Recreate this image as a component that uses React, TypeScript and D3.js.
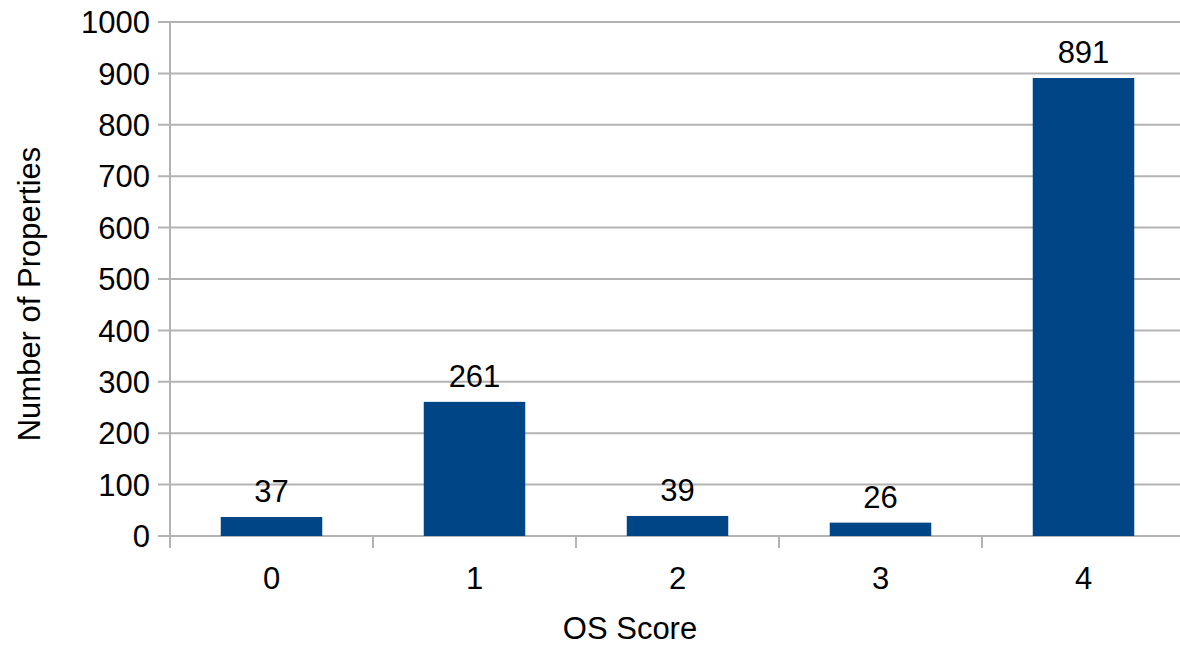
import React from "react";
import * as d3 from "d3";

const categories = ["0", "1", "2", "3", "4"];
const values = [37, 261, 39, 26, 891];
const yTicks = [0, 100, 200, 300, 400, 500, 600, 700, 800, 900, 1000];
const xTitle = "OS Score";
const yTitle = "Number of Properties";

const W = 1180;
const H = 647;
const left = 170;
const right = 1185;
const top = 22;
const bottom = 536;
const FONT = "'Liberation Sans', Arial, sans-serif";

export default function App() {
  const x = d3.scaleBand<string>().domain(categories).range([left, right]).paddingInner(0).paddingOuter(0);
  const y = d3.scaleLinear().domain([0, 1000]).range([bottom, top]);
  const bw = x.bandwidth() * 0.5;
  const boundaries = d3.range(categories.length + 1).map((i) => left + i * x.step());

  return (
    <svg width={W} height={H} style={{ position: "absolute", left: 0, top: 0, background: "#fff" }}>
      {yTicks.map((t) => (
        <g key={t}>
          <line x1={158} x2={W} y1={y(t)} y2={y(t)} stroke="#b3b3b3" strokeWidth={2} />
          <text x={150} y={y(t)} dy="0.36em" textAnchor="end" fontFamily={FONT} fontSize={31} fill="#000">
            {t}
          </text>
        </g>
      ))}
      <line x1={left} x2={left} y1={top} y2={548} stroke="#b3b3b3" strokeWidth={2} />
      {boundaries.map((b, i) => (
        <line key={i} x1={b} x2={b} y1={bottom} y2={548} stroke="#b3b3b3" strokeWidth={2} />
      ))}
      {categories.map((c, i) => {
        const cx = (x(c) as number) + x.bandwidth() / 2;
        return (
          <g key={c}>
            <rect x={cx - bw / 2} y={y(values[i])} width={bw} height={bottom - y(values[i])} fill="#004586" />
            <text x={cx} y={y(values[i]) - 15} textAnchor="middle" fontFamily={FONT} fontSize={31} fill="#000">
              {values[i]}
            </text>
            <text x={cx} y={589} textAnchor="middle" fontFamily={FONT} fontSize={31} fill="#000">
              {c}
            </text>
          </g>
        );
      })}
      <text x={630} y={639} textAnchor="middle" fontFamily={FONT} fontSize={31} fill="#000">
        {xTitle}
      </text>
      <text
        transform={`translate(40,${(143 + 445) / 2}) rotate(-90)`}
        textAnchor="middle"
        fontFamily={FONT}
        fontSize={31}
        fill="#000"
      >
        {yTitle}
      </text>
    </svg>
  );
}
